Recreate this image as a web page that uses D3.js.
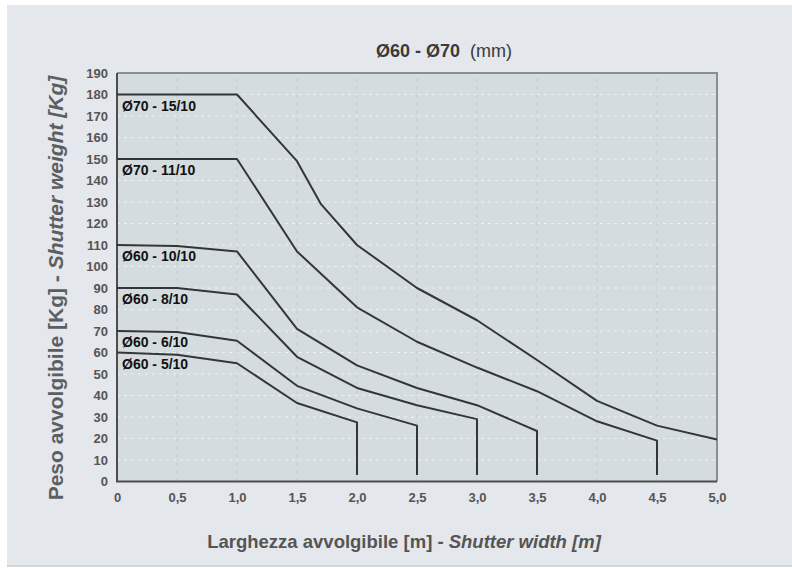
<!DOCTYPE html>
<html>
<head>
<meta charset="utf-8">
<script src="https://cdn.jsdelivr.net/npm/d3@7"></script>
<style>
    body { margin: 0; background: #ffffff; }
    svg { display: block; font-family: "Liberation Sans", Arial, sans-serif; }
</style>
</head>
<body>
<div id="chart"></div>
<script>
"use strict";

// widths [m] / weights [Kg]
var xTicks = [0, 0.5, 1.0, 1.5, 2.0, 2.5, 3.0, 3.5, 4.0, 4.5, 5.0];
var yTicks = [0, 10, 20, 30, 40, 50, 60, 70, 80, 90, 100, 110, 120, 130, 140, 150, 160, 170, 180, 190];

var names = ["Ø70 - 15/10", "Ø70 - 11/10", "Ø60 - 10/10", "Ø60 - 8/10", "Ø60 - 6/10", "Ø60 - 5/10"];

var s70_15 = [[0, 180], [1.0, 180], [1.5, 149], [1.7, 129], [2.0, 110], [2.5, 90], [3.0, 75], [3.5, 56.5], [4.0, 37.5], [4.5, 26], [5.0, 19.5]];
var s70_11 = [[0, 150], [1.0, 150], [1.5, 107], [2.0, 81], [2.5, 65], [3.0, 53], [3.5, 42], [4.0, 28], [4.5, 19], [4.5, 3]];
var s60_10 = [[0, 110], [0.5, 109.5], [1.0, 107], [1.5, 71], [2.0, 54], [2.5, 43.5], [3.0, 35.5], [3.5, 23.5], [3.5, 3]];
var s60_8  = [[0, 90], [0.5, 90], [1.0, 87], [1.5, 58], [2.0, 43.5], [2.5, 35.5], [3.0, 29], [3.0, 3]];
var s60_6  = [[0, 70], [0.5, 69.5], [1.0, 65.5], [1.5, 44.5], [2.0, 34], [2.5, 26], [2.5, 3]];
var s60_5  = [[0, 60], [0.5, 59], [1.0, 55], [1.5, 36.5], [2.0, 27.5], [2.0, 3]];

var series = [s70_15, s70_11, s60_10, s60_8, s60_6, s60_5];

var width = 792, height = 568;
var margin = { left: 117, right: 75, top: 73, bottom: 86 };

var svg = d3.select("#chart").append("svg")
    .attr("width", width)
    .attr("height", height);

// outer panel
svg.append("rect")
    .attr("x", 7).attr("y", 5)
    .attr("width", width - 7).attr("height", 561)
    .attr("fill", "#e4e7eb");
svg.append("line")
    .attr("x1", 7).attr("x2", width)
    .attr("y1", 566).attr("y2", 566)
    .attr("stroke", "#c9ccd0").attr("stroke-width", 1.5);

var x = d3.scaleLinear().domain([0, 5]).range([margin.left, width - margin.right]);
var y = d3.scaleLinear().domain([0, 190]).range([height - margin.bottom - 0.5, margin.top]);

// plot background
svg.append("rect")
    .attr("x", x(0)).attr("y", y(190))
    .attr("width", x(5) - x(0)).attr("height", y(0) - y(190))
    .attr("fill", "#d5dcdf");

// dashed grid
svg.append("g")
    .attr("class", "grid")
    .selectAll("line.h")
    .data(yTicks.filter(function (d) { return d > 0 && d < 190; }))
    .enter().append("line")
    .attr("x1", x(0)).attr("x2", x(5))
    .attr("y1", function (d) { return y(d); })
    .attr("y2", function (d) { return y(d); })
    .attr("stroke", "#eef1f1")
    .attr("stroke-width", 1)
    .attr("stroke-dasharray", "3,4");

svg.append("g")
    .attr("class", "grid")
    .selectAll("line.v")
    .data(xTicks.filter(function (d) { return d > 0 && d < 5; }))
    .enter().append("line")
    .attr("y1", y(0)).attr("y2", y(190))
    .attr("x1", function (d) { return x(d); })
    .attr("x2", function (d) { return x(d); })
    .attr("stroke", "#c3cacd")
    .attr("stroke-width", 1)
    .attr("stroke-dasharray", "3,5");

// frame
svg.append("path")
    .attr("d", "M" + x(0) + "," + y(190) + "H" + x(5) + "V" + y(0))
    .attr("fill", "none")
    .attr("stroke", "#8a8e91")
    .attr("stroke-width", 2);
svg.append("path")
    .attr("d", "M" + x(0) + "," + y(190) + "V" + y(0) + "H" + x(5))
    .attr("fill", "none")
    .attr("stroke", "#4a4d50")
    .attr("stroke-width", 2);

// axes
var fmtX = function (d) { return d === 0 ? "0" : d.toFixed(1).replace(".", ","); };

var xAxis = svg.append("g")
    .attr("transform", "translate(0," + (y(0) + 8) + ")")
    .call(d3.axisBottom(x).tickValues(xTicks).tickFormat(fmtX).tickSize(0));
xAxis.select(".domain").remove();
xAxis.selectAll("text")
    .attr("fill", "#555")
    .attr("font-size", 13)
    .attr("font-weight", "bold")
    .attr("font-family", "'Liberation Sans', Arial, sans-serif");

var yAxis = svg.append("g")
    .attr("transform", "translate(" + (x(0) - 9) + ",0)")
    .call(d3.axisLeft(y).tickValues(yTicks).tickFormat(d3.format("d")).tickSize(0).tickPadding(0));
yAxis.select(".domain").remove();
yAxis.selectAll("text")
    .attr("fill", "#555")
    .attr("font-size", 13)
    .attr("font-weight", "bold")
    .attr("font-family", "'Liberation Sans', Arial, sans-serif");

// curves
var line = d3.line()
    .x(function (d) { return x(d[0]); })
    .y(function (d) { return y(d[1]); });

svg.append("g")
    .attr("class", "curves")
    .selectAll("path")
    .data(series)
    .enter().append("path")
    .attr("d", line)
    .attr("fill", "none")
    .attr("stroke", "#333638")
    .attr("stroke-width", 2)
    .attr("stroke-linejoin", "round");

svg.append("g")
    .attr("class", "labels")
    .selectAll("text")
    .data(series)
    .enter().append("text")
    .attr("x", x(0) + 5)
    .attr("y", function (d) { return y(d[0][1]) + 16; })
    .attr("font-size", 14)
    .attr("font-weight", "bold")
    .attr("fill", "#111")
    .text(function (d, i) { return names[i]; });

// title
var title = svg.append("text")
    .attr("x", 444).attr("y", 57)
    .attr("text-anchor", "middle")
    .attr("font-size", 18)
    .attr("fill", "#3a3a3a");
title.append("tspan").attr("font-weight", "bold").text("Ø60 - Ø70");
title.append("tspan").attr("dx", 10).text("(mm)");

// axis titles
var xt = svg.append("text")
    .attr("x", 404).attr("y", 548)
    .attr("text-anchor", "middle")
    .attr("font-size", 18.5)
    .attr("font-weight", "bold")
    .attr("fill", "#555");
xt.append("tspan").text("Larghezza avvolgibile [m] - ");
xt.append("tspan").attr("font-style", "italic").text("Shutter width [m]");

var yt = svg.append("text")
    .attr("transform", "translate(63,288) rotate(-90)")
    .attr("text-anchor", "middle")
    .attr("font-size", 21)
    .attr("font-weight", "bold")
    .attr("fill", "#5c5f62");
yt.append("tspan").text("Peso avvolgibile [Kg] - ");
yt.append("tspan").attr("font-style", "italic").text("Shutter weight [Kg]");
</script>
</body>
</html>
